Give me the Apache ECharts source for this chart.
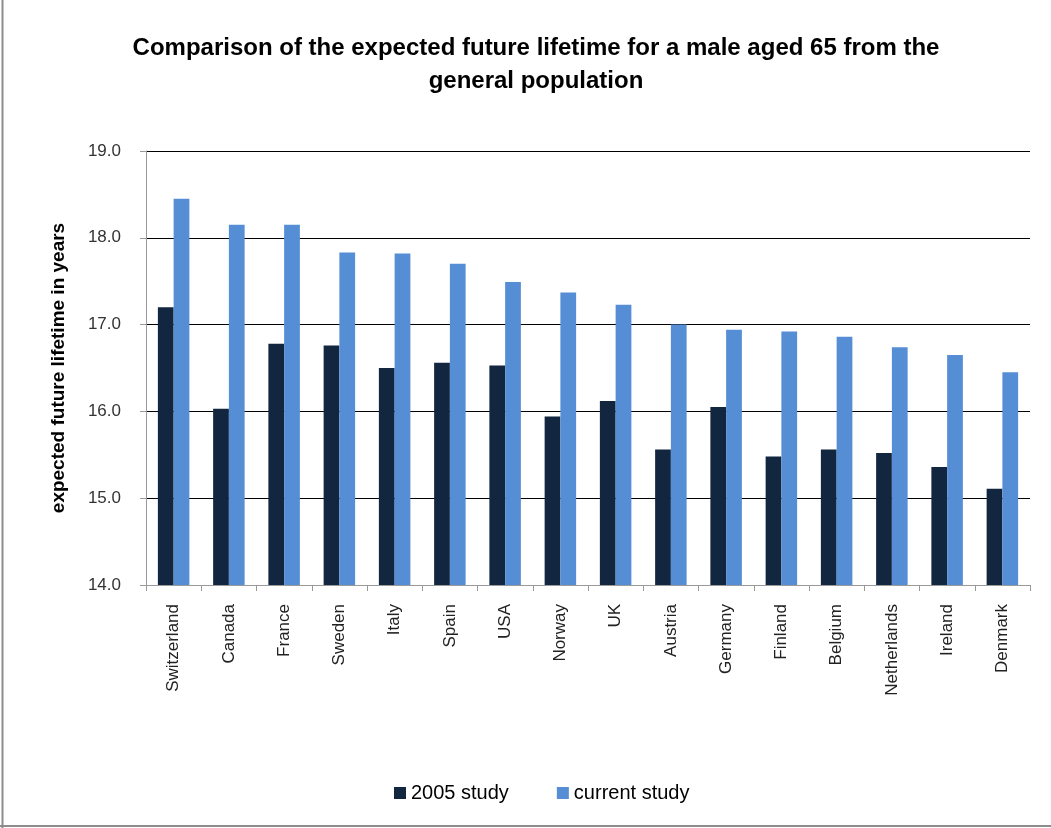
<!DOCTYPE html>
<html>
<head>
<meta charset="utf-8">
<script src="https://cdn.jsdelivr.net/npm/echarts@6/dist/echarts.min.js"></script>
<style>
html,body{margin:0;padding:0;background:#fff;}
#c{width:1051px;height:828px;}
</style>
</head>
<body>
<div id="c"></div>
<script>
const countries = ['Switzerland','Canada','France','Sweden','Italy','Spain','USA','Norway','UK','Austria','Germany','Finland','Belgium','Netherlands','Ireland','Denmark'];
const study2005 = [17.20,16.03,16.78,16.76,16.50,16.56,16.53,15.94,16.12,15.56,16.05,15.48,15.56,15.52,15.36,15.11];
const currentStudy = [18.45,18.15,18.15,17.83,17.82,17.70,17.49,17.37,17.23,17.00,16.94,16.92,16.86,16.74,16.65,16.45];
const yTicks = [14,15,16,17,18,19];

const chart = echarts.init(document.getElementById('c'), null, {renderer:'canvas'});
chart.setOption({
  animation:false,
  backgroundColor:'#fff',
  title:{
    text:'Comparison of the expected future lifetime for a male aged 65 from the\ngeneral population',
    left:531, top:27, textAlign:'center',
    textStyle:{fontFamily:'Liberation Sans, Arial', fontWeight:'bold', fontSize:24, color:'#000', lineHeight:33}
  },
  legend:{
    top:778, left:389, itemGap:48, itemWidth:12, itemHeight:12, icon:'rect',
    textStyle:{fontFamily:'Liberation Sans, Arial', fontSize:20, color:'#000'},
    data:['2005 study','current study']
  },
  grid:{left:146, right:21, top:151, bottom:243, containLabel:false},
  xAxis:{
    type:'category', data:countries,
    axisLine:{lineStyle:{color:'#9a9a9a'}},
    axisTick:{show:true, length:6, lineStyle:{color:'#9a9a9a'}, alignWithLabel:false},
    axisLabel:{rotate:90, margin:19, fontFamily:'Liberation Sans, Arial', fontSize:17, color:'#222', verticalAlign:'middle'}
  },
  yAxis:{
    type:'value', min:yTicks[0], max:yTicks[yTicks.length-1], interval:1,
    name:'expected future lifetime in years', nameLocation:'middle', nameGap:78, nameRotate:90,
    nameTextStyle:{fontFamily:'Liberation Sans, Arial', fontWeight:'bold', fontSize:19, color:'#000'},
    axisLine:{show:true, lineStyle:{color:'#9a9a9a'}},
    axisTick:{show:true, length:6, lineStyle:{color:'#9a9a9a'}},
    axisLabel:{formatter:v=>v.toFixed(1), margin:25, fontFamily:'Liberation Sans, Arial', fontSize:17, color:'#333'},
    splitLine:{show:true, lineStyle:{color:'#000', width:1}}
  },
  series:[
    {name:'2005 study', type:'bar', data:study2005, barGap:'0%', barCategoryGap:'43%', itemStyle:{color:'#13263f'}},
    {name:'current study', type:'bar', data:currentStudy, barGap:'0%', barCategoryGap:'43%', itemStyle:{color:'#558ed5'}}
  ],
  graphic:[
    {type:'line', shape:{x1:2.5,y1:0,x2:2.5,y2:828}, style:{stroke:'#8c8c8c', lineWidth:2}},
    {type:'line', shape:{x1:0,y1:826,x2:1051,y2:826}, style:{stroke:'#8c8c8c', lineWidth:2}}
  ]
});
</script>
</body>
</html>
